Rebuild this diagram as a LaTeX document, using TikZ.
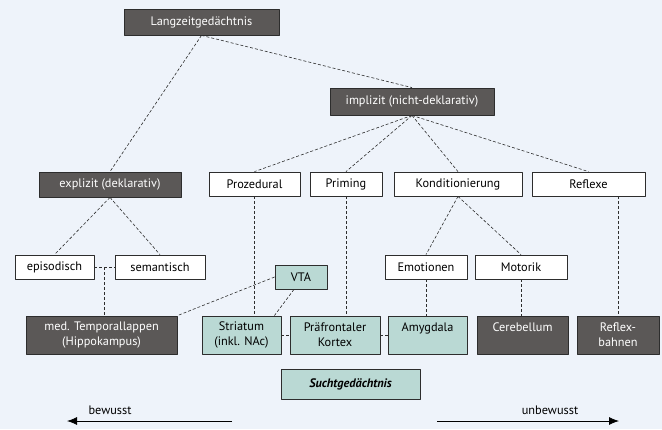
\documentclass[tikz,border=0pt]{standalone}
\usepackage{fontspec}
\setmainfont{PT Sans}
\usetikzlibrary{arrows.meta}
\definecolor{hgrund}{RGB}{238,243,250}
\definecolor{dunkel}{RGB}{91,88,87}
\definecolor{tuerkis}{RGB}{186,217,212}
\definecolor{rahmen}{RGB}{45,45,45}
\begin{document}
\begin{tikzpicture}[x=1pt,y=-1pt,font=\fontsize{12.3}{15}\selectfont,line join=round,>={Latex[length=10pt,width=8pt]},
	kasten/.style={draw=rahmen,line width=.8pt,minimum height=24pt,inner sep=1pt},
	dkasten/.style={kasten,fill=dunkel,text=white},
	wkasten/.style={kasten,fill=white},
	tkasten/.style={kasten,fill=tuerkis},
	gross/.style={minimum height=38pt,align=center},
	linie/.style={densely dashed,line width=.6pt,draw=rahmen}]
	\fill[hgrund] (0,0) rectangle (662,429); % Hintergrund
	\path 
	(201.5,22) node[dkasten,minimum width=155pt,minimum height=26pt] (lzg) {Langzeitgedächtnis}
	(412,101.5) node[dkasten,minimum width=164pt,minimum height=27pt] (impl) {implizit (nicht-deklarativ)}
	(110,184.5) node[dkasten,minimum width=142pt,minimum height=25pt] (expl) {explizit (deklarativ)}
	(254.5,184) node[wkasten,minimum width=91pt] (proz) {Prozedural}
	(346,184) node[wkasten,minimum width=72pt] (prim) {Priming}
	(458,184) node[wkasten,minimum width=128pt] (kond) {Konditionierung}
	(588.5,184) node[wkasten,minimum width=113pt] (refl) {Reflexe}
	(54.5,267) node[wkasten,minimum width=79pt] (epi) {episodisch}
	(160,267) node[wkasten,minimum width=90pt] (sem) {semantisch}
	(301,277) node[tkasten,minimum width=52pt] (vta) {VTA}
	(426,267) node[wkasten,minimum width=82pt] (emo) {Emotionen}
	(521,267) node[wkasten,minimum width=92pt] (mot) {Motorik}
	(101.5,335) node[dkasten,gross,minimum width=151pt] (mtl) {med. Temporallappen\\(Hippokampus)}
	(241.5,335) node[tkasten,gross,minimum width=79pt] (str) {Striatum\\(inkl. NAc)}
	(335,335) node[tkasten,gross,minimum width=90pt] (pfc) {Präfrontaler\\Kortex}
	(427.5,335) node[tkasten,gross,minimum width=79pt] (amy) {Amygdala\\\mbox{}}
	(522.5,335) node[dkasten,gross,minimum width=91pt] (cer) {Cerebellum\\\mbox{}}
	(618,335) node[dkasten,gross,minimum width=82pt] (rfb) {Reflex-\\bahnen}
	(350.5,384) node[tkasten,minimum width=139pt,minimum height=30pt,font=\fontsize{12.3}{15}\selectfont\bfseries\itshape] (sucht) {Suchtgedächtnis}
	(110,410) node (bew) {bewusst}
	(550,410) node (unbew) {unbewusst};
	% Verbindungen
	\draw[linie] (lzg.south)--(expl.north);
	\draw[linie] (lzg.south)--(impl.north);
	\foreach \z in {proz,prim,kond,refl} \draw[linie] (impl.south)--(\z.north);
	\draw[linie] (expl.south)--(epi.north) (expl.south)--(sem.north);
	\draw[linie] (epi.east)--(sem.west);
	\path (epi.east)--(sem.west) coordinate[pos=.5] (epsem);
	\draw[linie] (epsem)--(epsem |- mtl.north);
	\draw[linie] (vta.west)--(mtl.north east);
	\draw[linie] ([xshift=-7pt]vta.south)--([xshift=-7pt]str.north east);
	\draw[linie] (proz.south)--(proz.south |- str.north);
	\draw[linie] (prim.south)--(prim.south |- pfc.north);
	\draw[linie] (kond.south)--(emo.north) (kond.south)--(mot.north);
	\draw[linie] (emo.south)--(emo.south |- amy.north);
	\draw[linie] (mot.south)--(mot.south |- cer.north);
	\draw[linie] (rfb.north |- refl.south)--(rfb.north);
	\draw[linie] (str.east)--(pfc.west) (pfc.east)--(amy.west);
	% bewusst / unbewusst
	\coordinate (bewA) at (232,421);
	\coordinate (bewB) at (67,421);
	\coordinate (unbewA) at (437,421);
	\coordinate (unbewB) at (619,421);
	\draw[->,line width=.8pt] (bewA)--(bewB);
	\draw[->,line width=.8pt] (unbewA)--(unbewB);
\end{tikzpicture}
\end{document}
